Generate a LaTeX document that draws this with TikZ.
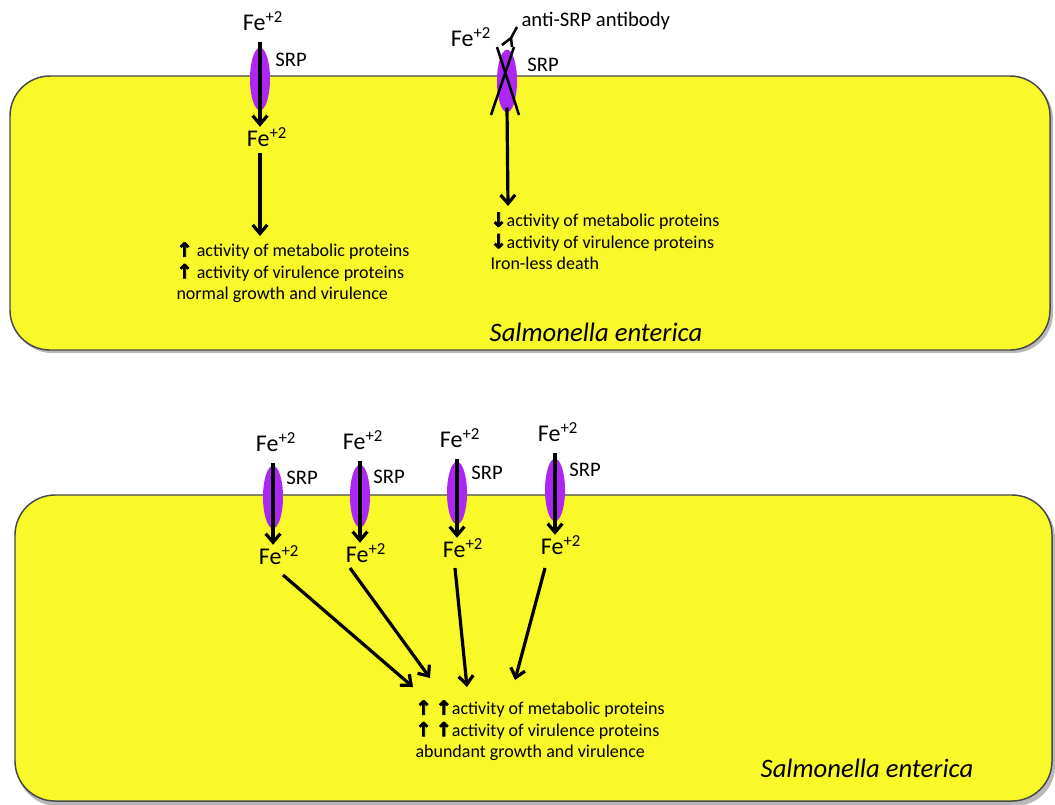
\documentclass[tikz,border=0pt]{standalone}
\usepackage{fontspec}
\setmainfont{Carlito}
\newfontfamily\arrowfont[FakeBold=4]{DejaVu Sans Bold}
\usetikzlibrary{arrows.meta,shapes.geometric}

\definecolor{cellfill}{RGB}{249,249,42}
\definecolor{cellline}{RGB}{72,72,72}
\definecolor{srpfill}{RGB}{172,40,242}

\newcommand{\upar}{{\arrowfont\fontsize{14.5}{16}\selectfont ↑}}
\newcommand{\downar}{{\arrowfont\fontsize{14.5}{16}\selectfont ↓}}
\newcommand{\feion}{Fe\textsuperscript{+2}}

\tikzset{every picture/.style={line width=0.75pt}}
\tikzset{
  cell/.style={draw=cellline, fill=cellfill, line width=1.1pt, rounded corners=30pt},
  cellshadow/.style={fill=black!28, rounded corners=30pt},
  srp/.style={ellipse, fill=srpfill, draw=none, minimum width=15pt, minimum height=47pt, inner sep=0pt},
  ion/.style={inner sep=0pt, font=\fontsize{18}{20}\selectfont},
  srplabel/.style={inner sep=0pt, font=\fontsize{15.5}{18}\selectfont},
  effect/.style={inner sep=0pt, align=left, anchor=north west, font=\fontsize{13.5}{16.2}\selectfont},
  species/.style={inner sep=0pt, font=\fontsize{20}{24}\selectfont\itshape},
  flow/.style={line width=2.4pt, -{Straight Barb[length=6.5pt,width=11pt,line width=2.4pt]}},
  block/.style={line width=1.9pt},
}

\begin{document}
\begin{tikzpicture}[x=0.75pt,y=0.75pt,yscale=-1,xscale=1]
\useasboundingbox (0,0) rectangle (1055,804);

%Shape: Cells
\fill[cellshadow] (12,79) rectangle (1053,353);
\draw[cell] (10,76) rectangle (1050,350);
\fill[cellshadow] (17,498) rectangle (1055,806);
\draw[cell] (15,495) rectangle (1052,801);

% Top cell, open SRP
\node[srp] (srpA) at (260,79) {};
\node[ion] (feA) at (263,21) {\feion};
\node[ion] (feAin) at (267,137) {\feion};
\node[srplabel] (lblA) at (291,60) {SRP};
\draw[flow, shorten <=8pt] (srpA.north |- feA.south) -- (srpA.south |- feAin.north);
\coordinate (effA) at (260,236);
\draw[flow, shorten <=4pt] (feAin.south -| effA) -- (effA);
% Text Node
\node[effect] (effectsA) at (176,242) {\upar\ activity of metabolic proteins\\\upar\ activity of virulence proteins\\normal growth and virulence};

% Top cell, blocked SRP
\node[srp] (srpB) at (507,81) {};
\draw[block] (497,47) -- (519,115);
\draw[block] (514,47) -- (491,115);
\coordinate (abJ) at (511,38);
\draw[block] (517,27) -- (abJ) -- (502,45);
\draw[block] (abJ) -- (512,47);
\node[ion] (feB) at (471,37) {\feion};
\node[srplabel] (lblB) at (543,65) {SRP};
\node[srplabel, anchor=west] (abB) at (521,21) {anti-SRP antibody};
\coordinate (effB) at (508,206);
\draw[flow] ([yshift=-4pt]srpB.south) -- (effB);
% Text Node
\node[effect] (effectsB) at (490,212) {\downar activity of metabolic proteins\\\downar activity of virulence proteins\\Iron-less death};

\node[species] (spA) at (596,332) {Salmonella enterica};

% Bottom cell, four SRP
\foreach \n/\ex/\ey/\fx/\fy/\gx/\gy/\lx/\ly/\sx/\sy/\tx/\ty in {
  1/273/497/276/442/279/555/302/478/283/575/413/687,
  2/360/496/363/440/366/553/389/477/350/568/430/678,
  3/457/493/460/438/463/548/487/473/455/568/467/687,
  4/555/490/558/432/561/545/585/470/545/568/515/680}{
  \node[srp] (srpC\n) at (\ex,\ey) {};
  \node[ion] (feC\n) at (\fx,\fy) {\feion};
  \node[ion] (feCin\n) at (\gx,\gy) {\feion};
  \node[srplabel] (lblC\n) at (\lx,\ly) {SRP};
  \draw[flow, shorten <=8pt] (srpC\n.north |- feC\n.south) -- (srpC\n.south |- feCin\n.north);
  \coordinate (srcC\n) at (\sx,\sy);
  \coordinate (tipC\n) at (\tx,\ty);
  \draw[flow] (srcC\n) -- (tipC\n);
}
% Text Node
\node[effect] (effectsC) at (415,700) {\upar\ \upar activity of metabolic proteins\\\upar\ \upar activity of virulence proteins\\abundant growth and virulence};

\node[species] (spB) at (867,768) {Salmonella enterica};

\end{tikzpicture}
\end{document}
